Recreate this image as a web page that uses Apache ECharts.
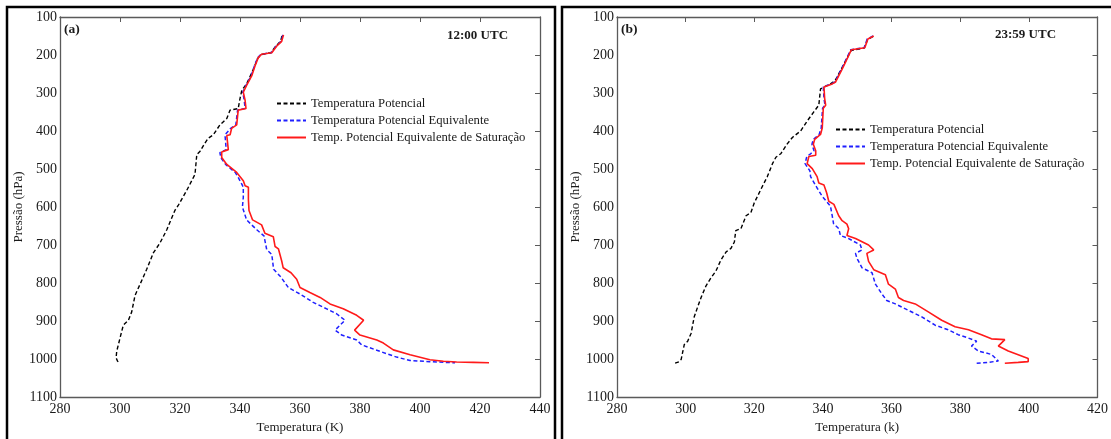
<!DOCTYPE html>
<html>
<head>
<meta charset="utf-8">
<script src="https://cdn.jsdelivr.net/npm/echarts@6/dist/echarts.min.js"></script>
<style>
  html, body { margin: 0; padding: 0; background: #fff; }
  #chart { width: 1111px; height: 439px; }
</style>
</head>
<body>
<div id="chart"></div>
<script>
// Vertical profiles of potential temperatures (K) against pressure (hPa)

const NAME_THETA = 'Temperatura Potencial';
const NAME_THETA_E = 'Temperatura Potencial Equivalente';
const NAME_THETA_ES = 'Temp. Potencial Equivalente de Saturação';

const temperatureTicks = [280, 300, 320, 340, 360, 380, 400, 420, 440];
const pressureTicks = [100, 200, 300, 400, 500, 600, 700, 800, 900, 1000, 1100];

// (a) 12:00 UTC
const pressA_theta = [150, 164, 178, 194, 199, 210, 235, 276, 293, 315, 341, 345, 367, 384, 410, 419, 432, 453, 462, 514, 531, 557, 596, 609, 660, 695, 721, 764, 803, 833, 876, 898, 911, 945, 980, 997, 1006, 1010];
const tempA_theta  = [354.0, 353.5, 351.8, 350.3, 347.0, 345.8, 344.6, 342.2, 340.6, 340.0, 339.4, 336.7, 335.6, 333.3, 331.1, 329.4, 328.3, 326.7, 325.6, 325.0, 323.9, 322.2, 319.4, 318.3, 315.6, 313.3, 311.1, 308.9, 306.7, 305.0, 303.9, 302.8, 301.1, 300.0, 298.9, 298.7, 299.2, 300.0];

const pressA_thetaE = [147, 164, 177, 194, 198, 207, 229, 255, 280, 298, 319, 341, 345, 384, 393, 410, 449, 457, 470, 488, 510, 522, 540, 548, 575, 600, 634, 660, 676, 712, 725, 764, 784, 812, 829, 851, 868, 881, 898, 924, 937, 950, 963, 980, 995, 1004, 1007, 1010];
const tempA_thetaE  = [354.3, 353.7, 352.0, 350.4, 347.0, 345.9, 344.8, 343.7, 342.0, 340.9, 341.4, 341.7, 339.2, 338.6, 336.9, 335.0, 335.4, 333.3, 333.6, 335.2, 338.5, 339.4, 340.6, 341.1, 341.1, 340.8, 342.2, 345.6, 348.0, 348.9, 350.6, 351.2, 353.6, 356.1, 360.0, 364.4, 368.9, 372.2, 375.0, 371.7, 373.9, 378.9, 380.6, 386.7, 392.2, 396.7, 403.3, 411.7];

const pressA_thetaES = [147, 164, 177, 194, 198, 207, 229, 255, 280, 298, 319, 341, 345, 384, 393, 410, 412, 449, 455, 470, 488, 509, 531, 544, 548, 580, 609, 634, 647, 669, 678, 704, 710, 742, 760, 773, 790, 812, 825, 838, 855, 868, 885, 898, 924, 937, 950, 958, 976, 989, 1002, 1006, 1008, 1009, 1010];
const tempA_thetaES  = [354.5, 353.9, 352.2, 350.6, 347.2, 346.1, 345.0, 343.9, 342.2, 341.1, 341.7, 342.0, 339.4, 338.9, 337.2, 336.7, 335.6, 336.1, 333.9, 333.9, 335.6, 338.9, 341.1, 341.7, 342.8, 342.8, 343.0, 344.2, 347.2, 348.3, 351.1, 351.7, 352.8, 353.9, 354.4, 357.0, 358.9, 360.0, 363.3, 366.7, 370.0, 374.4, 378.9, 381.2, 378.2, 380.0, 385.6, 387.8, 391.1, 396.7, 403.3, 407.8, 412.2, 417.8, 423.0];

// (b) 23:59 UTC
const pressB_theta = [151, 160, 182, 188, 212, 238, 268, 276, 289, 332, 349, 374, 400, 417, 434, 460, 469, 486, 520, 554, 589, 615, 623, 657, 662, 692, 709, 718, 739, 769, 786, 808, 838, 863, 889, 932, 953, 962, 1001, 1007, 1011];
const tempB_theta  = [354.6, 353.0, 352.0, 348.2, 346.8, 345.3, 343.5, 342.2, 339.3, 338.8, 337.4, 335.4, 333.5, 331.1, 329.6, 327.7, 326.3, 325.3, 323.8, 321.9, 320.0, 319.0, 317.6, 316.1, 314.6, 314.2, 313.2, 311.8, 310.3, 308.8, 307.4, 305.9, 304.5, 303.5, 302.5, 301.6, 300.6, 299.6, 298.7, 298.2, 296.9];

const pressB_thetaE = [150, 158, 181, 186, 211, 237, 271, 276, 284, 314, 332, 340, 392, 409, 422, 435, 452, 460, 467, 486, 505, 520, 550, 572, 598, 623, 644, 657, 675, 683, 700, 713, 722, 735, 760, 773, 803, 829, 846, 855, 872, 889, 911, 923, 936, 945, 953, 966, 979, 988, 1005, 1009, 1011];
const tempB_thetaE  = [354.6, 352.9, 352.0, 348.1, 346.8, 345.4, 343.5, 342.5, 340.1, 340.3, 340.6, 339.9, 339.5, 338.9, 337.2, 336.8, 337.4, 336.4, 335.3, 334.8, 336.2, 336.4, 338.3, 339.8, 342.2, 342.7, 343.1, 344.6, 345.1, 347.5, 350.9, 351.4, 349.5, 349.9, 351.4, 354.3, 355.3, 357.2, 358.6, 361.1, 364.9, 368.8, 372.7, 376.5, 379.4, 382.4, 384.8, 383.3, 385.3, 389.1, 391.1, 388.2, 384.8];

const pressB_thetaES = [150, 158, 181, 186, 211, 237, 271, 276, 284, 314, 332, 340, 392, 409, 422, 435, 452, 464, 467, 486, 499, 520, 537, 542, 563, 585, 593, 623, 636, 645, 657, 675, 683, 700, 713, 722, 743, 765, 778, 803, 816, 838, 846, 855, 876, 898, 915, 923, 936, 947, 949, 966, 979, 999, 1007, 1009, 1011];
const tempB_thetaES  = [354.8, 353.1, 352.2, 348.3, 347.0, 345.6, 343.7, 342.7, 340.3, 340.5, 340.8, 340.1, 339.8, 339.3, 337.6, 337.2, 337.9, 337.9, 335.9, 335.4, 336.9, 338.3, 338.8, 340.3, 341.1, 341.7, 343.2, 344.6, 345.6, 347.0, 347.5, 347.0, 349.5, 353.3, 354.8, 352.8, 353.3, 354.8, 358.2, 359.1, 361.1, 362.0, 363.5, 366.9, 370.7, 374.6, 378.5, 382.4, 386.2, 389.1, 393.0, 391.1, 394.0, 399.8, 399.8, 396.9, 393.0];

const FONT = '"Liberation Serif", "Times New Roman", serif';
const AXIS_COLOR = '#5a5a5a';
const TEXT_COLOR = '#1a1a1a';

function pairs(temps, press) {
  return temps.map((t, i) => [t, press[i]]);
}

const plainNumber = v => String(v);

function xAxes(grid, maxT, label) {
  const base = {
    gridIndex: grid, type: 'value', min: temperatureTicks[0], max: maxT, interval: 20,
    splitLine: { show: false },
    axisLine: { show: true, onZero: false, lineStyle: { color: AXIS_COLOR, width: 1.3 } }
  };
  return [
    Object.assign({}, base, {
      position: 'bottom',
      axisTick: { show: false },
      axisLabel: { color: TEXT_COLOR, fontFamily: FONT, fontSize: 14, margin: 5, formatter: plainNumber },
      name: label, nameLocation: 'middle', nameGap: 24,
      nameTextStyle: { color: TEXT_COLOR, fontFamily: FONT, fontSize: 13 }
    }),
    Object.assign({}, base, {
      position: 'top',
      axisTick: { show: true, inside: true, length: 5, lineStyle: { color: AXIS_COLOR } },
      axisLabel: { show: false }
    })
  ];
}

function yAxes(grid, gap) {
  const base = {
    gridIndex: grid, type: 'value', inverse: true,
    min: pressureTicks[0], max: pressureTicks[pressureTicks.length - 1], interval: 100,
    splitLine: { show: false },
    axisLine: { show: true, onZero: false, lineStyle: { color: AXIS_COLOR, width: 1.3 } }
  };
  return [
    Object.assign({}, base, {
      position: 'left',
      axisTick: { show: false },
      axisLabel: { color: TEXT_COLOR, fontFamily: FONT, fontSize: 14, margin: 3, formatter: plainNumber },
      name: 'Pressão (hPa)', nameLocation: 'middle', nameGap: gap, nameRotate: 90,
      nameTextStyle: { color: TEXT_COLOR, fontFamily: FONT, fontSize: 13 }
    }),
    Object.assign({}, base, {
      position: 'right',
      axisTick: { show: true, inside: true, length: 5, lineStyle: { color: AXIS_COLOR } },
      axisLabel: { show: false }
    })
  ];
}

function profile(name, temps, press, axisIdx, style) {
  return {
    name: name, type: 'line', xAxisIndex: axisIdx, yAxisIndex: axisIdx,
    data: pairs(temps, press), symbol: 'none', animation: false,
    lineStyle: style
  };
}

const styleTheta = { color: '#000', width: 1.4, type: [4, 2.5] };
const styleThetaE = { color: '#1f1fff', width: 1.5, type: [4, 2.5] };
const styleThetaES = { color: '#ff1a1a', width: 1.6, type: 'solid' };

function legendFor(left, top) {
  return {
    orient: 'vertical', left: left, top: top, padding: 0,
    itemWidth: 29, itemHeight: 10, itemGap: 0,
    selectedMode: false,
    itemStyle: { opacity: 0, borderWidth: 0 },
    textStyle: { color: TEXT_COLOR, fontFamily: FONT, fontSize: 12.7, lineHeight: 17, height: 17 },
    data: [NAME_THETA, NAME_THETA_E, NAME_THETA_ES]
  };
}

const chart = echarts.init(document.getElementById('chart'), null, { renderer: 'canvas' });

chart.setOption({
  backgroundColor: '#fff',
  animation: false,
  grid: [
    { left: 60, top: 17, width: 480, height: 386 },
    { left: 617, top: 17, width: 482, height: 389 }
  ],
  xAxis: [].concat(xAxes(0, 440, 'Temperatura (K)'), xAxes(1, 420, 'Temperatura (k)')),
  yAxis: [].concat(yAxes(0, 33), yAxes(1, 35)),
  legend: [legendFor(276, 95), legendFor(835, 121)],
  series: [
    profile(NAME_THETA, tempA_theta, pressA_theta, 0, styleTheta),
    profile(NAME_THETA_E, tempA_thetaE, pressA_thetaE, 0, styleThetaE),
    profile(NAME_THETA_ES, tempA_thetaES, pressA_thetaES, 0, styleThetaES),
    profile(NAME_THETA, tempB_theta, pressB_theta, 2, styleTheta),
    profile(NAME_THETA_E, tempB_thetaE, pressB_thetaE, 2, styleThetaE),
    profile(NAME_THETA_ES, tempB_thetaES, pressB_thetaES, 2, styleThetaES)
  ],
  graphic: [
    // panel frames
    { type: 'rect', shape: { x: 7, y: 7, width: 548, height: 520 }, style: { fill: 'none', stroke: '#000', lineWidth: 2.5 }, silent: true },
    { type: 'rect', shape: { x: 562, y: 7, width: 600, height: 520 }, style: { fill: 'none', stroke: '#000', lineWidth: 2.5 }, silent: true },
    // panel tags and times
    { type: 'text', left: 64, top: 23, style: { text: '(a)', fill: TEXT_COLOR, font: 'bold 13.5px ' + FONT } },
    { type: 'text', left: 447, top: 29, style: { text: '12:00 UTC', fill: TEXT_COLOR, font: 'bold 13px ' + FONT } },
    { type: 'text', left: 621, top: 23, style: { text: '(b)', fill: TEXT_COLOR, font: 'bold 13.5px ' + FONT } },
    { type: 'text', left: 995, top: 28, style: { text: '23:59 UTC', fill: TEXT_COLOR, font: 'bold 13px ' + FONT } }
  ]
});
</script>
</body>
</html>
